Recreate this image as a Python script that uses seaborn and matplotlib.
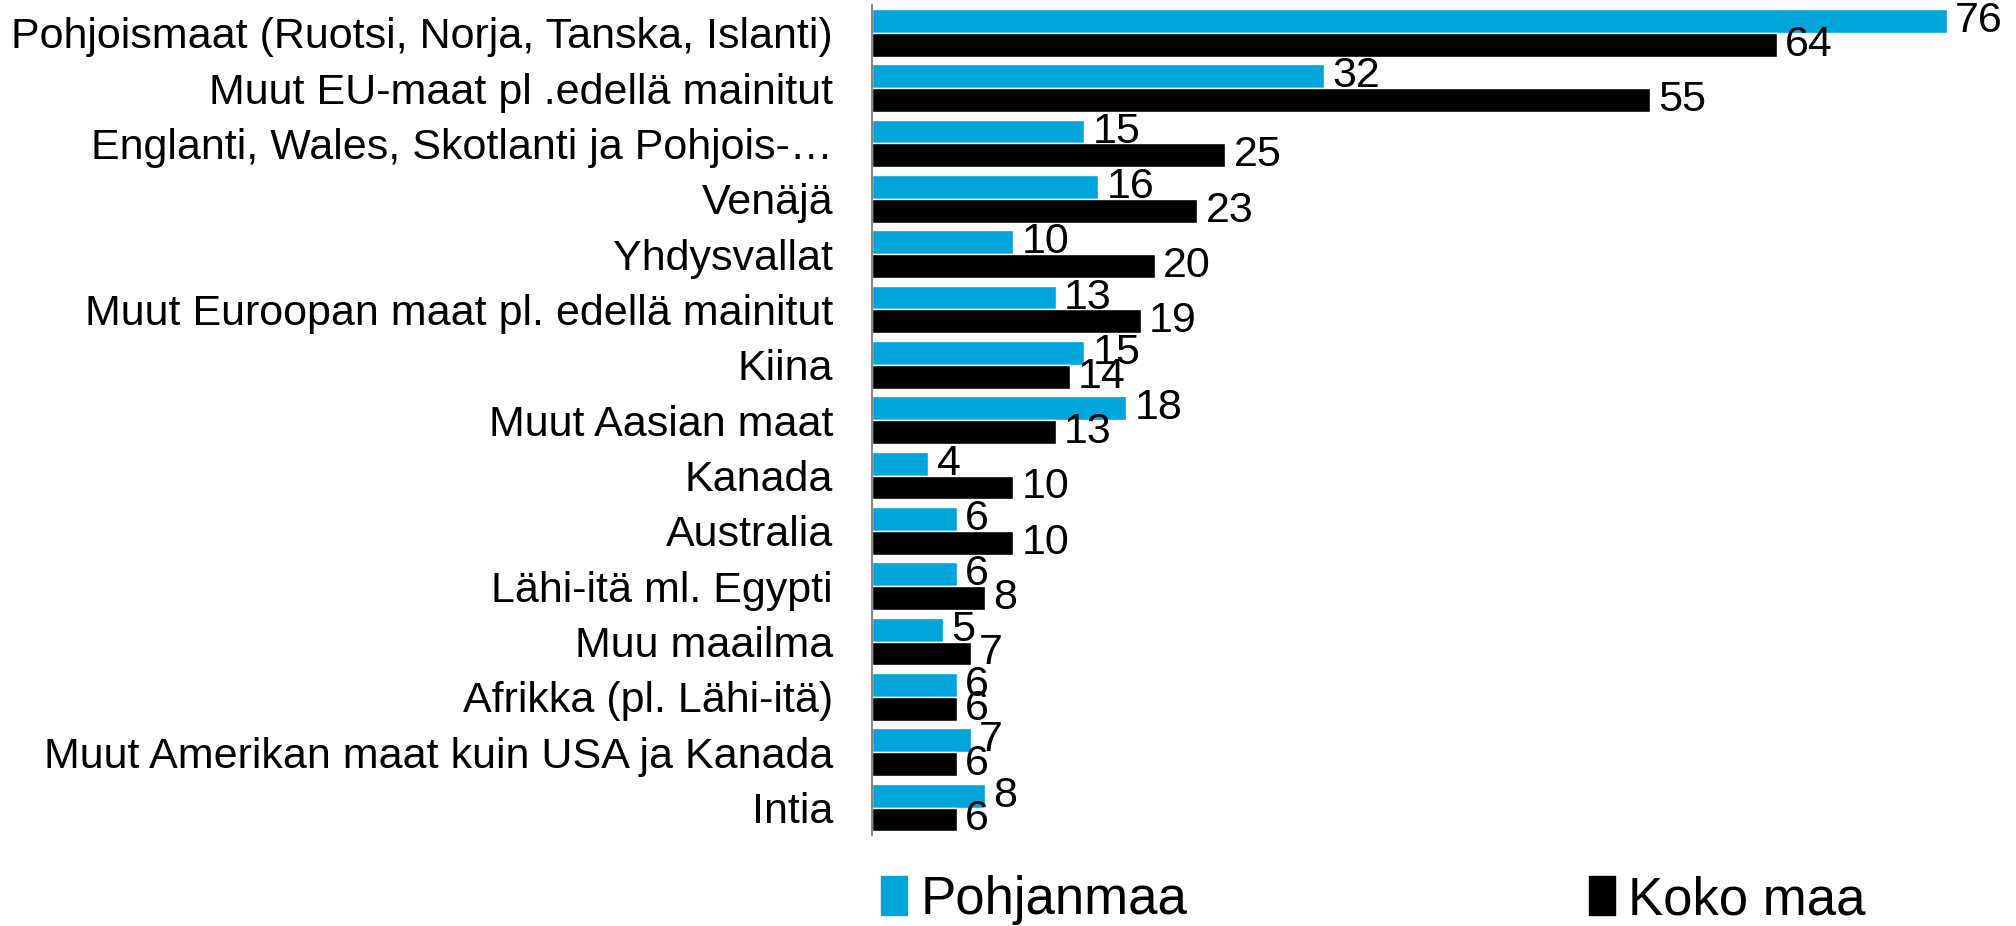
import matplotlib
matplotlib.use("Agg")
import matplotlib.pyplot as plt
import pandas as pd
import seaborn as sns

sns.set_theme(style="white")
plt.rcParams["font.family"] = ["Liberation Sans", "DejaVu Sans"]
plt.rcParams["text.color"] = "black"
plt.rcParams["ytick.color"] = "black"

regions = [
    "Pohjoismaat (Ruotsi, Norja, Tanska, Islanti)",
    "Muut EU-maat pl .edellä mainitut",
    "Englanti, Wales, Skotlanti ja Pohjois-…",
    "Venäjä",
    "Yhdysvallat",
    "Muut Euroopan maat pl. edellä mainitut",
    "Kiina",
    "Muut Aasian maat",
    "Kanada",
    "Australia",
    "Lähi-itä ml. Egypti",
    "Muu maailma",
    "Afrikka (pl. Lähi-itä)",
    "Muut Amerikan maat kuin USA ja Kanada",
    "Intia",
]
pohjanmaa = [76, 32, 15, 16, 10, 13, 15, 18, 4, 6, 6, 5, 6, 7, 8]
koko_maa = [64, 55, 25, 23, 20, 19, 14, 13, 10, 10, 8, 7, 6, 6, 6]
series = ["Pohjanmaa", "Koko maa"]
colors = ["#00A5DB", "#000000"]

df = pd.DataFrame({
    "region": regions * 2,
    "value": pohjanmaa + koko_maa,
    "series": [series[0]] * len(regions) + [series[1]] * len(regions),
})

fig = plt.figure(figsize=(20.16, 9.26), dpi=100)
ax = fig.add_axes([0.4325, 0.098, 0.5675, 0.8965])

sns.barplot(data=df, y="region", x="value", hue="series", orient="h",
            palette=colors, width=0.86, ax=ax, legend=False, saturation=1)

for c in ax.containers:
    ax.bar_label(c, padding=6, fontsize=31, color="black")

ax.set_xlim(0, 80.9)
ax.set_ylim(14.5, -0.5)
ax.set_xlabel("")
ax.set_ylabel("")
ax.set_xticks([])
ax.tick_params(axis="y", length=0, pad=28, labelsize=31, labelcolor="black")
for s in ["top", "right", "bottom"]:
    ax.spines[s].set_visible(False)
ax.spines["left"].set_color("#888888")
ax.spines["left"].set_linewidth(1.5)

handles = [plt.Rectangle((0, 0), 1, 1, color=col) for col in colors]
fig.legend(handles, series, loc="center left", bbox_to_anchor=(0.437, 0.028),
           ncol=2, frameon=False, fontsize=38, handlelength=0.5,
           handleheight=0.75, handletextpad=0.25, columnspacing=7.6,
           borderpad=0, borderaxespad=0, labelcolor="black")

fig.savefig("out.png", dpi=100)
